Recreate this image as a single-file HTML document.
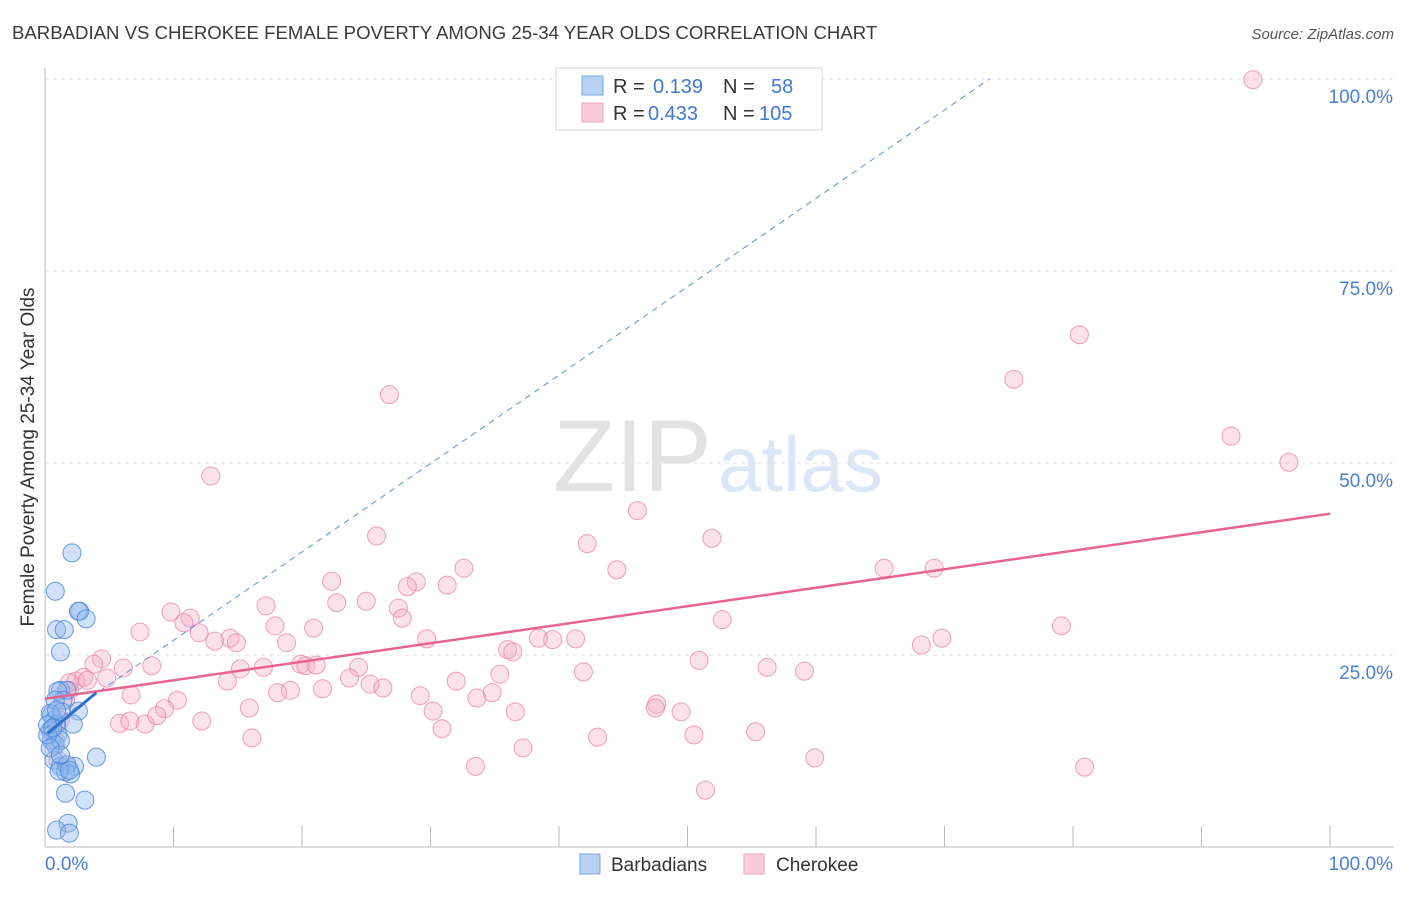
<!DOCTYPE html>
<html><head><meta charset="utf-8"><style>
body{margin:0;background:#fff;font-family:"Liberation Sans",sans-serif}
svg text{font-family:"Liberation Sans",sans-serif}
</style></head><body>
<svg id="chart" width="1406" height="892" viewBox="0 0 1406 892" xmlns="http://www.w3.org/2000/svg">
<text x="12" y="39" font-size="18.6" fill="#3a3a3a">BARBADIAN VS CHEROKEE FEMALE POVERTY AMONG 25-34 YEAR OLDS CORRELATION CHART</text>
<text x="1394" y="39" font-size="15" fill="#555" text-anchor="end" font-style="italic">Source: ZipAtlas.com</text>
<g>
<text x="553" y="491" font-size="102" fill="#e2e2e2" font-family="Liberation Serif, serif">ZIP</text>
<text x="718" y="491" font-size="78" fill="#dbe6f6">atlas</text>
</g>
<g id="grid"></g>
<g id="axes"></g>
<g id="pts"></g>
<g id="lines"></g>
<text transform="translate(34,457) rotate(-90)" font-size="19" fill="#333" text-anchor="middle">Female Poverty Among 25-34 Year Olds</text>
<g>
<rect x="556" y="68" width="266" height="62" fill="#fff" stroke="#d5d5d5"/>
<rect x="582" y="76" width="21" height="19" fill="#b9d2f4" stroke="#7aa6e6"/>
<rect x="582" y="103" width="21" height="19" fill="#fbcbd9" stroke="#eda0ba"/>
<text x="613" y="93" font-size="20" fill="#333">R = </text><text x="653" y="93" font-size="20" fill="#3f78d2">0.139</text>
<text x="723" y="93" font-size="20" fill="#333">N = </text><text x="771" y="93" font-size="20" fill="#3f78d2">58</text>
<text x="613" y="120" font-size="20" fill="#333">R = </text><text x="648" y="120" font-size="20" fill="#3f78d2">0.433</text>
<text x="723" y="120" font-size="20" fill="#333">N = </text><text x="759" y="120" font-size="20" fill="#3f78d2">105</text>
</g>
<g>
<rect x="580" y="854" width="20" height="20" fill="#b9d2f4" stroke="#7aa6e6"/>
<text x="611" y="871" font-size="19" fill="#333">Barbadians</text>
<rect x="744" y="854" width="20" height="20" fill="#fbcbd9" stroke="#eda0ba"/>
<text x="776" y="871" font-size="19" fill="#333">Cherokee</text>
</g>
</svg>
<script>
const yTicks=[25,50,75,100];
const yTickLabels=["25.0%","50.0%","75.0%","100.0%"];
const xTicks=[0,10,20,30,40,50,60,70,80,90,100];
const xEndLabels=["0.0%","100.0%"];
const blueX=[2.1,0.8,2.7,2.6,3.2,0.9,1.5,1.2,1.2,1.7,1.0,1.4,2.6,0.5,2.2,0.7,0.9,0.4,1.0,0.5,0.8,1.2,4.0,0.7,1.2,2.3,1.7,1.6,2.0,1.1,1.6,3.1,1.8,0.9,1.9,0.4,0.2,0.4,0.8,1.3,0.2,0.6,0.9,1.2,1.9];
const blueY=[38.3,33.3,30.7,30.7,29.7,28.3,28.3,25.4,20.4,20.4,20.3,19.1,17.7,17.2,16.0,16.5,16.0,15.2,14.6,13.9,13.3,13.9,11.7,11.3,10.5,10.5,10.7,9.8,9.5,9.9,7.0,6.1,3.1,2.2,1.8,17.4,14.6,12.9,19.1,17.6,15.9,15.5,17.8,12.0,10.0];
const pinkX=[94.0,80.5,75.4,26.8,92.3,96.8,12.9,46.1,25.8,51.9,42.2,44.5,32.6,65.3,69.2,22.3,28.9,28.2,31.3,25.0,22.7,9.8,17.2,27.5,11.3,27.8,52.7,10.8,17.9,20.9,7.4,12.0,14.4,13.2,14.9,29.7,18.8,41.3,39.5,38.4,69.8,68.2,79.1,36.0,36.4,4.4,3.8,8.3,6.1,15.2,19.9,20.3,21.1,17.0,24.4,50.9,56.2,59.1,41.9,35.4,14.2,23.7,32.0,25.3,4.8,2.4,3.0,3.3,1.9,26.3,21.6,19.1,18.1,34.8,6.7,10.3,29.2,33.6,9.3,15.9,30.2,47.6,47.5,49.5,36.6,5.8,7.8,12.2,8.7,30.9,55.3,50.5,43.0,16.1,37.2,59.9,33.5,80.9,51.4,1.2,0.8,1.6,1.9,1.0,6.6];
const pinkY=[99.9,66.7,60.9,58.9,53.5,50.1,48.3,43.8,40.5,40.2,39.5,36.1,36.3,36.3,36.3,34.6,34.5,33.9,34.1,32.0,31.8,30.6,31.4,31.1,29.8,29.8,29.6,29.2,28.8,28.5,28.0,27.9,27.2,26.8,26.6,27.1,26.6,27.1,27.0,27.2,27.2,26.3,28.8,25.7,25.4,24.5,23.8,23.6,23.3,23.2,23.8,23.6,23.7,23.4,23.4,24.3,23.4,22.9,22.8,22.5,21.6,22.0,21.6,21.2,22.0,21.6,22.1,21.7,21.4,20.7,20.6,20.4,20.1,20.1,19.8,19.1,19.7,19.4,18.0,18.1,17.7,18.6,18.1,17.6,17.6,16.1,16.0,16.4,17.1,15.4,15.0,14.6,14.3,14.2,12.9,11.6,10.5,10.4,7.4,16.5,13.9,19.1,20.4,11.3,16.4];
const blueTrend=[[0.2,14.8],[4.0,20.1]];
const blueDash=[[0,15.4],[73.5,100]];
const pinkTrend=[[0,19.3],[100,43.4]];

const NS="http://www.w3.org/2000/svg";
const X=v=>45+v*12.85, Y=v=>847-v*7.68;
function mk(t,a,p){const e=document.createElementNS(NS,t);for(const k in a)e.setAttribute(k,a[k]);document.getElementById(p).appendChild(e);return e;}
yTicks.forEach((t,i)=>{
 const g=mk('line',{x1:45,x2:1394,y1:Y(t),y2:Y(t),stroke:'#e2e2e2','stroke-dasharray':'4,4'},'grid');
 
 
 const l=mk('text',{x:1393,y:Y(t)+24,'font-size':19,fill:'#4a80d4','text-anchor':'end'},'grid');
 l.textContent=yTickLabels[i];
 
 
});
const ya=mk('line',{x1:45,x2:45,y1:68,y2:847,stroke:'#bbb'},'axes');


const xa=mk('line',{x1:45,x2:1394,y1:847,y2:847,stroke:'#bbb'},'axes');


xTicks.forEach(t=>{
 const k=mk('line',{x1:X(t),x2:X(t),y1:826,y2:847,stroke:'#bbb'},'axes');
 
 
});
const xl0=mk('text',{x:45,y:870,'font-size':19,fill:'#4a80d4'},'axes');xl0.textContent=xEndLabels[0];


const xl1=mk('text',{x:1393,y:870,'font-size':19,fill:'#4a80d4','text-anchor':'end'},'axes');xl1.textContent=xEndLabels[1];


pinkX.forEach((v,i)=>{
 const c=mk('circle',{cx:X(v),cy:Y(pinkY[i]),r:9,fill:'rgba(244,170,195,0.35)',stroke:'rgba(232,130,165,0.75)','stroke-width':1},'pts');
 
 
});
blueX.forEach((v,i)=>{
 const c=mk('circle',{cx:X(v),cy:Y(blueY[i]),r:9,fill:'rgba(140,182,238,0.4)',stroke:'rgba(70,130,220,0.8)','stroke-width':1},'pts');
 
 
});
const d=mk('line',{x1:X(blueDash[0][0]),y1:Y(blueDash[0][1]),x2:X(blueDash[1][0]),y2:Y(blueDash[1][1]),stroke:'#5b8fdc','stroke-width':1,'stroke-dasharray':'6,5'},'lines');


const pt=mk('line',{x1:X(pinkTrend[0][0]),y1:Y(pinkTrend[0][1]),x2:X(pinkTrend[1][0]),y2:Y(pinkTrend[1][1]),stroke:'#e8648f','stroke-width':2.5},'lines');


const bt=mk('line',{x1:X(blueTrend[0][0]),y1:Y(blueTrend[0][1]),x2:X(blueTrend[1][0]),y2:Y(blueTrend[1][1]),stroke:'#2f6fd0','stroke-width':3},'lines');


</script>
</body></html>
